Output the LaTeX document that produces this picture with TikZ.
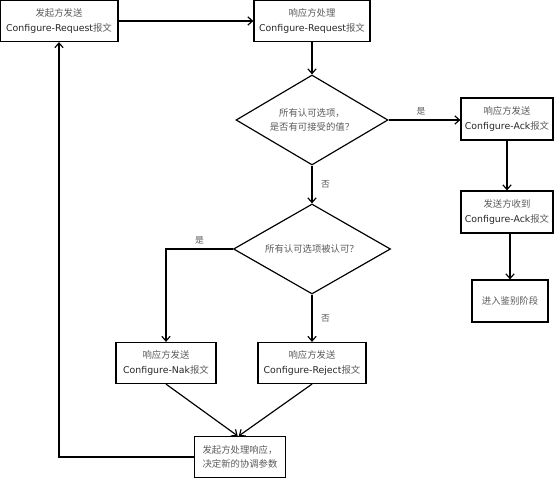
\documentclass[tikz,border=0pt]{standalone}
\usepackage{fontspec}
\setmainfont{DejaVu Sans}
\newfontfamily\cjk{Noto Sans CJK SC}
\usepackage{xcolor}
\usetikzlibrary{shapes.geometric}
\usetikzlibrary{arrows.meta}

\definecolor{zhgray}{HTML}{5A5A5A}
\newcommand{\zh}[1]{{\cjk\color{zhgray}#1}}

\begin{document}
\begin{tikzpicture}[
  x=0.03cm, y=-0.03cm,
  every node/.style={font=\fontsize{8}{12}\selectfont, text=black!85},
  box/.style={rectangle, draw, line width=1pt, align=center, inner sep=0pt},
  decision/.style={diamond, draw, line width=1pt, align=center, inner sep=0pt, aspect=1.7},
  arr/.style={-{Straight Barb[length=4pt,width=7pt]}, line width=1pt},
  lbl/.style={font=\fontsize{7.5}{9}\selectfont}
]
\useasboundingbox (0,0) rectangle (560,480);

% boxes
\node[box, minimum width=3.54cm, minimum height=1.23cm] (send) at (59,21)
  {\zh{发起方发送}\\Configure-Request\zh{报文}};
\node[box, minimum width=3.48cm, minimum height=1.23cm] (proc) at (312,21)
  {\zh{响应方处理}\\Configure-Request\zh{报文}};
\node[box, minimum width=2.76cm, minimum height=1.26cm] (ack) at (507,119)
  {\zh{响应方发送}\\Configure-Ack\zh{报文}};
\node[box, minimum width=2.76cm, minimum height=1.26cm] (recv) at (507,212)
  {\zh{发送方收到}\\Configure-Ack\zh{报文}};
\node[box, minimum width=2.28cm, minimum height=1.26cm] (auth) at (510,301)
  {\zh{进入鉴别阶段}};
\node[box, minimum width=3.0cm, minimum height=1.23cm] (nak) at (166,363)
  {\zh{响应方发送}\\Configure-Nak\zh{报文}};
\node[box, minimum width=3.24cm, minimum height=1.23cm] (rej) at (312,363)
  {\zh{响应方发送}\\Configure-Reject\zh{报文}};
\node[box, minimum width=2.73cm, minimum height=1.23cm] (decide) at (240,457)
  {\zh{发起方处理响应，}\\\zh{决定新的协调参数}};

% decisions
\node[decision, minimum width=4.56cm, minimum height=2.7cm] (q1) at (312,120)
  {\zh{所有认可选项，}\\\zh{是否有可接受的值？}};
\node[decision, minimum width=4.71cm, minimum height=2.7cm] (q2) at (312,249)
  {\zh{所有认可选项被认可？}};

% connectors
\draw[arr] (send) -- (proc);
\draw[arr] (proc) -- (q1);
\draw[arr] (q1.east) -- node[lbl, above, pos=0.45] {\zh{是}} (q1.east -| ack.west);
\draw[arr] (ack) -- (recv);
\draw[arr] (recv.south -| auth) -- (auth);
\draw[arr] (q1) -- node[lbl, right, xshift=4pt] {\zh{否}} (q2);
\draw[arr] (q2.west) -| node[lbl, above, pos=0.25] {\zh{是}} (nak.north);
\draw[arr] (q2) -- node[lbl, right, xshift=4pt] {\zh{否}} (rej);
\draw[arr] (nak.south) -- ([xshift=-2]decide.north);
\draw[arr] (rej.south) -- ([xshift=-1]decide.north);
\draw[arr] (decide.west) -| (send.south);
\end{tikzpicture}
\end{document}
